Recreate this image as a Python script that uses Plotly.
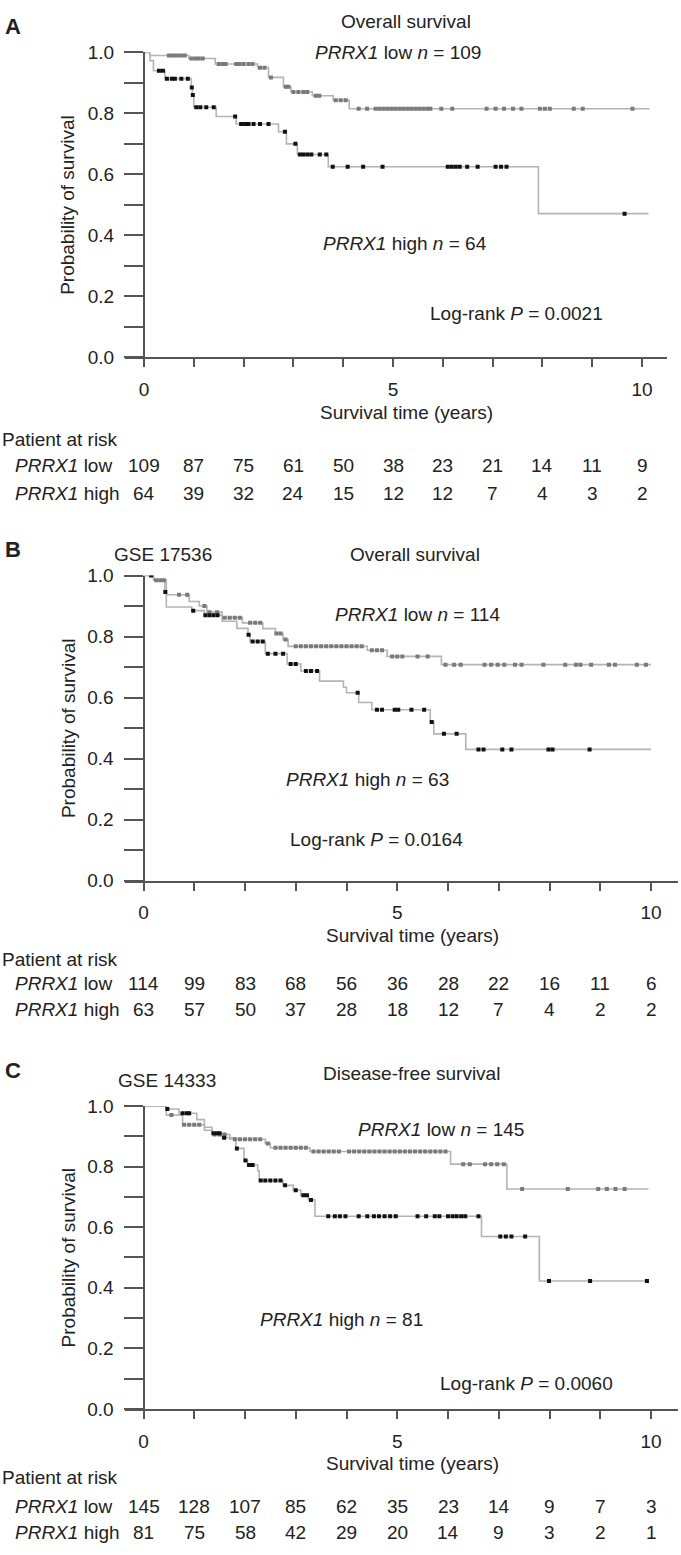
import numpy as np
import plotly.graph_objects as go

W, H = 681, 1555

# ---------------- data ----------------
risk_times = [0, 1, 2, 3, 4, 5, 6, 7, 8, 9, 10]

# Panel A (Overall survival)
A_low_t = [0, 0.12, 0.9, 1.43, 2.28, 2.5, 2.8, 2.95, 3.38, 3.8, 4.12]
A_low_s = [1.0, 0.99, 0.98, 0.962, 0.95, 0.918, 0.887, 0.87, 0.858, 0.843, 0.815]
A_low_end = 10.15
A_low_cens = [0.5, 0.58, 0.66, 0.74, 0.82, 0.95, 1.03, 1.1, 1.18, 1.5, 1.57, 1.64, 1.85, 1.92, 2.0, 2.1, 2.18,
              2.33, 2.42, 2.55, 2.85, 2.9, 3.0, 3.1, 3.2, 3.28, 3.45, 3.52, 3.85, 3.95, 4.05,
              4.31, 4.48, 4.65, 4.73, 4.81, 4.89, 4.97, 5.05, 5.13, 5.21, 5.29, 5.37, 5.45, 5.53, 5.61, 5.69, 5.75,
              5.97, 6.19, 6.88, 7.06, 7.23, 7.41, 7.58, 7.95, 8.05, 8.15, 8.63, 8.81, 9.81]
A_high_t = [0, 0.12, 0.19, 0.42, 0.95, 0.97, 1.0, 1.45, 1.85, 2.7, 2.86, 3.08, 3.7, 7.92]
A_high_s = [1.0, 0.973, 0.94, 0.914, 0.885, 0.86, 0.82, 0.79, 0.765, 0.74, 0.7, 0.665, 0.625, 0.471]
A_high_end = 10.13
A_high_cens = [0.3, 0.38, 0.46, 0.56, 0.62, 0.75, 0.88, 0.96, 0.98, 1.05, 1.13, 1.25, 1.4, 1.83,
               1.95, 2.03, 2.1, 2.2, 2.33, 2.5, 2.83, 3.04, 3.13, 3.2, 3.28, 3.36, 3.53, 3.66,
               3.79, 4.09, 4.4, 4.79, 6.1, 6.18, 6.26, 6.34, 6.49, 6.7, 7.06, 7.17, 7.28, 9.65]
A_risk_low = [109, 87, 75, 61, 50, 38, 23, 21, 14, 11, 9]
A_risk_high = [64, 39, 32, 24, 15, 12, 12, 7, 4, 3, 2]

# Panel B (GSE 17536, Overall survival)
B_low_t = [0, 0.2, 0.45, 0.9, 1.1, 1.25, 1.55, 1.95, 2.35, 2.6, 2.75, 2.85, 4.41, 4.8, 5.87]
B_low_s = [1.0, 0.985, 0.937, 0.915, 0.9, 0.88, 0.862, 0.845, 0.826, 0.81, 0.79, 0.768, 0.755, 0.735, 0.708]
B_low_end = 10.0
B_low_cens = [0.25, 0.33, 0.4, 0.7, 0.86, 1.2, 1.3, 1.45, 1.6, 1.7, 1.8, 1.9, 2.1, 2.2, 2.3, 2.62, 2.7, 2.8,
              3.0, 3.1, 3.2, 3.3, 3.4, 3.5, 3.6, 3.7, 3.8, 3.9, 4.0, 4.1, 4.2, 4.3, 4.5, 4.6, 4.7,
              4.9, 5.0, 5.1, 5.4, 5.6, 5.95, 6.12, 6.25, 6.72, 6.85, 6.98, 7.11, 7.32, 7.45, 7.88,
              8.31, 8.52, 8.61, 8.82, 9.17, 9.29, 9.72, 9.9]
B_high_t = [0, 0.2, 0.42, 0.45, 0.95, 1.2, 1.55, 1.84, 2.06, 2.1, 2.4, 2.83, 3.1, 3.47, 3.94, 4.0, 4.24,
            4.5, 5.65, 5.72, 6.35]
B_high_s = [1.0, 0.985, 0.946, 0.897, 0.885, 0.87, 0.85, 0.827, 0.806, 0.784, 0.744, 0.71, 0.687, 0.654,
            0.634, 0.616, 0.584, 0.56, 0.52, 0.481, 0.43]
B_high_end = 10.0
B_high_cens = [0.15, 0.43, 0.98, 1.22, 1.3, 1.38, 1.46, 2.07, 2.15, 2.25, 2.35, 2.45, 2.6, 2.75, 2.9, 3.0,
               3.2, 3.3, 3.42, 4.22, 4.6, 4.7, 4.95, 5.02, 5.28, 5.53, 5.68, 5.92, 6.17, 6.6, 6.7,
               7.07, 7.25, 7.98, 8.06, 8.79]
B_risk_low = [114, 99, 83, 68, 56, 36, 28, 22, 16, 11, 6]
B_risk_high = [63, 57, 50, 37, 28, 18, 12, 7, 4, 2, 2]

# Panel C (GSE 14333, Disease-free survival)
C_low_t = [0, 0.45, 0.77, 1.2, 1.35, 1.7, 2.4, 2.5, 3.28, 6.05, 7.16]
C_low_s = [1.0, 0.97, 0.938, 0.92, 0.906, 0.89, 0.876, 0.862, 0.85, 0.808, 0.726]
C_low_end = 9.95
C_low_cens = [0.55, 0.8, 0.9, 1.0, 1.1, 1.4, 1.5, 1.6, 1.8, 1.9, 2.0, 2.1, 2.2, 2.3, 2.45, 2.6, 2.7, 2.8,
              2.9, 3.0, 3.1, 3.2, 3.35, 3.45, 3.55, 3.65, 3.75, 3.85, 4.05, 4.15, 4.25, 4.35, 4.45, 4.55,
              4.65, 4.75, 4.85, 4.95, 5.05, 5.15, 5.25, 5.35, 5.45, 5.55, 5.65, 5.75, 5.85, 5.95,
              6.3, 6.43, 6.73, 6.85, 6.97, 7.1, 7.46, 8.36, 8.96, 9.13, 9.3, 9.48]
C_high_t = [0, 0.45, 0.7, 1.05, 1.2, 1.35, 1.55, 1.82, 1.98, 2.05, 2.25, 2.28, 2.75, 2.95, 3.1, 3.25,
            3.38, 6.66, 7.8]
C_high_s = [1.0, 0.99, 0.976, 0.955, 0.93, 0.91, 0.895, 0.86, 0.82, 0.805, 0.786, 0.754, 0.738, 0.722,
            0.705, 0.69, 0.636, 0.569, 0.422]
C_high_end = 9.92
C_high_cens = [0.47, 0.77, 0.85, 0.9, 1.38, 1.45, 1.5, 1.59, 1.84, 2.01, 2.08, 2.15, 2.31, 2.4, 2.5,
               2.6, 2.7, 2.79, 3.0, 3.15, 3.22, 3.3, 3.64, 3.77, 3.87, 3.98, 4.24, 4.41, 4.54, 4.64,
               4.75, 4.86, 4.97, 5.4, 5.57, 5.74, 5.83, 6.0, 6.09, 6.17, 6.26, 6.34, 6.6, 7.03,
               7.14, 7.25, 7.52, 7.99, 8.8, 9.92]
C_risk_low = [145, 128, 107, 85, 62, 35, 23, 14, 9, 7, 3]
C_risk_high = [81, 75, 58, 42, 29, 20, 14, 9, 3, 2, 1]

# ---------------- styling ----------------
FONT = "Liberation Sans, Arial, Helvetica, sans-serif"
TXT = "#222222"
AX = "#555555"
LINE = "#b4b4b4"
LOW_MK = "#7a7a7a"
HIGH_MK = "#111111"
FS = 19

panels = [
    dict(low=(A_low_t, A_low_s, A_low_end, A_low_cens), high=(A_high_t, A_high_s, A_high_end, A_high_cens),
         risk=(A_risk_low, A_risk_high), top=43, bot=352, x0=144, x10=642, xl=125, xr=667,
         letter=("A", 17), gse=None, title=("Overall survival", 406, 12),
         lowlab=("109", 398, 43), highlab=("64", 405, 237), logrank=("0.0021", 516, 308),
         xtitle=(406, 408), par=435, rows=(462, 490)),
    dict(low=(B_low_t, B_low_s, B_low_end, B_low_cens), high=(B_high_t, B_high_s, B_high_end, B_high_cens),
         risk=(B_risk_low, B_risk_high), top=573.3, bot=882.5, x0=143.5, x10=651, xl=125, xr=678,
         letter=("B", 547), gse=("GSE 17536", 163, 552), title=("Overall survival", 415, 552),
         lowlab=("114", 417, 613), highlab=("63", 367, 780), logrank=("0.0164", 376, 841),
         xtitle=(412, 938), par=963, rows=(987, 1013)),
    dict(low=(C_low_t, C_low_s, C_low_end, C_low_cens), high=(C_high_t, C_high_s, C_high_end, C_high_cens),
         risk=(C_risk_low, C_risk_high), top=1111, bot=1418, x0=143.5, x10=651, xl=125, xr=678,
         letter=("C", 1075), gse=("GSE 14333", 167, 1085), title=("Disease-free survival", 411, 1078),
         lowlab=("145", 441, 1135), highlab=("81", 341, 1327), logrank=("0.0060", 526, 1392),
         xtitle=(412, 1473), par=1488, rows=(1517, 1543)),
]


def px(x):
    return x / W


def py(y):
    return 1 - y / H


fig = go.Figure()
annotations = []
layout = {}


def ann(text, x, y, size=FS, xanchor="center", xref="paper", bold=False, angle=0):
    annotations.append(dict(text=("<b>%s</b>" % text) if bold else text, x=x, y=py(y), xref=xref, yref="paper",
                            xanchor=xanchor, yanchor="middle", showarrow=False, textangle=angle,
                            font=dict(family=FONT, size=size, color=TXT)))


for i, p in enumerate(panels):
    k = "" if i == 0 else str(i + 1)
    xa, ya = "x" + k, "y" + k
    scale = (p["x10"] - p["x0"]) / 10.0
    xrange = [(p["xl"] - p["x0"]) / scale, (p["xr"] - p["x0"]) / scale]
    layout["xaxis" + k] = dict(
        domain=[px(p["xl"]), px(p["xr"])], range=xrange, anchor=ya,
        showline=True, linecolor=AX, linewidth=2, showgrid=False, zeroline=False,
        ticks="outside", ticklen=8, tickwidth=2, tickcolor=AX,
        tickvals=risk_times, ticktext=[str(t) if t % 5 == 0 else "" for t in risk_times],
        tickfont=dict(family=FONT, size=FS, color=TXT), ticklabelstandoff=6, fixedrange=True)
    layout["yaxis" + k] = dict(
        domain=[py(p["bot"]), py(p["top"])], range=[0, 1], anchor="free", position=px(p["x0"]),
        showline=True, linecolor=AX, linewidth=2, showgrid=False, zeroline=False,
        ticks="outside", ticklen=19, tickwidth=2, tickcolor=AX,
        tickvals=[j / 10 for j in range(11)],
        ticktext=["%.1f" % (j / 10) if j % 2 == 0 else "" for j in range(11)],
        tickfont=dict(family=FONT, size=FS, color=TXT), ticklabelstandoff=6, fixedrange=True)

    for grp in ("low", "high"):
        t, s, end, cens = p[grp]
        fig.add_trace(go.Scatter(x=list(t) + [end], y=list(s) + [s[-1]], mode="lines",
                                 line=dict(shape="hv", color=LINE, width=1.6),
                                 xaxis=xa, yaxis=ya, showlegend=False, hoverinfo="skip"))
    for grp, mk in (("low", LOW_MK), ("high", HIGH_MK)):
        t, s, end, cens = p[grp]
        idx = np.searchsorted(np.array(t), np.array(cens), side="right") - 1
        cy = np.array(s)[idx]
        fig.add_trace(go.Scatter(x=cens, y=cy, mode="markers",
                                 marker=dict(symbol="square", size=4, color=mk, line=dict(width=0)),
                                 xaxis=xa, yaxis=ya, showlegend=False, hoverinfo="skip"))

    # texts
    ann(p["letter"][0], px(3), p["letter"][1], size=22, xanchor="left", bold=True)
    if p["gse"]:
        ann(p["gse"][0], px(p["gse"][1]), p["gse"][2])
    ann(p["title"][0], px(p["title"][1]), p["title"][2])
    ann("<i>PRRX1</i> low <i>n</i> = %s" % p["lowlab"][0], px(p["lowlab"][1]), p["lowlab"][2])
    ann("<i>PRRX1</i> high <i>n</i> = %s" % p["highlab"][0], px(p["highlab"][1]), p["highlab"][2])
    ann("Log-rank <i>P</i> = %s" % p["logrank"][0], px(p["logrank"][1]), p["logrank"][2])
    ann("Probability of survival", px(68), (p["top"] + p["bot"]) / 2, angle=-90)
    ann("Survival time (years)", px(p["xtitle"][0]), p["xtitle"][1])
    ann("Patient at risk", 0, p["par"], xanchor="left")
    ann("<i>PRRX1</i> low", px(13), p["rows"][0], xanchor="left")
    ann("<i>PRRX1</i> high", px(13), p["rows"][1], xanchor="left")
    for row, vals in zip(p["rows"], p["risk"]):
        for tt, v in zip(risk_times, vals):
            ann(str(v), tt, row, xref=xa)

fig.update_layout(width=W, height=H, margin=dict(l=0, r=0, t=0, b=0),
                  paper_bgcolor="white", plot_bgcolor="white", annotations=annotations, **layout)
fig.write_html("out.html", config={"displayModeBar": False, "staticPlot": True},
               post_script="document.body.style.margin='0';document.body.style.overflow='hidden';")
